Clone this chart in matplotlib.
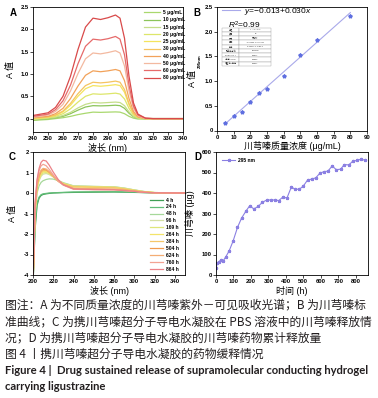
import numpy as np
import matplotlib
matplotlib.use('Agg')
import matplotlib.pyplot as plt

plt.rcParams['font.family'] = ['Liberation Sans', 'Noto Sans CJK SC']
plt.rcParams['axes.unicode_minus'] = False
plt.rcParams['mathtext.fontset'] = 'custom'
plt.rcParams['mathtext.it'] = 'Liberation Sans:italic'
plt.rcParams['mathtext.rm'] = 'Liberation Sans'

# ---------------- Panel A: UV-vis spectra ----------------
wl_a = [240, 250, 255, 260, 265, 270, 275, 280, 285, 290, 295, 298, 301, 304, 307, 310, 315, 320, 340]
conc_labels = ['5 μg/mL', '10 μg/mL', '15 μg/mL', '20 μg/mL', '25 μg/mL',
               '30 μg/mL', '40 μg/mL', '50 μg/mL', '60 μg/mL', '80 μg/mL']
conc_colors = ['#a9d86e', '#8cc45a', '#c5de8a', '#dde66a', '#f4e45e',
               '#f5c460', '#f2a25a', '#f3b9a0', '#e66a6a', '#d94a4a']
spec_5 = [-0.04, -0.02, 0.0, 0.02, 0.05, 0.09, 0.12, 0.145, 0.14, 0.145, 0.15, 0.145, 0.11, 0.05, 0.01, -0.01, -0.01, 0.0, 0.0]
spec_10 = [-0.03, 0.0, 0.02, 0.05, 0.11, 0.19, 0.26, 0.29, 0.285, 0.29, 0.30, 0.29, 0.23, 0.12, 0.04, 0.01, 0.0, 0.0, 0.0]
spec_15 = [-0.02, 0.01, 0.03, 0.07, 0.14, 0.24, 0.32, 0.36, 0.35, 0.36, 0.37, 0.36, 0.29, 0.15, 0.05, 0.01, 0.0, 0.0, 0.0]
spec_20 = [-0.01, 0.02, 0.05, 0.11, 0.22, 0.37, 0.50, 0.555, 0.545, 0.555, 0.57, 0.55, 0.44, 0.23, 0.08, 0.02, 0.0, 0.0, 0.0]
spec_25 = [0.0, 0.03, 0.07, 0.15, 0.30, 0.50, 0.67, 0.74, 0.725, 0.74, 0.76, 0.74, 0.59, 0.31, 0.11, 0.03, 0.0, 0.0, 0.0]
spec_30 = [0.01, 0.04, 0.08, 0.17, 0.34, 0.56, 0.74, 0.815, 0.80, 0.815, 0.84, 0.815, 0.65, 0.34, 0.12, 0.03, 0.0, 0.0, 0.0]
spec_40 = [0.02, 0.05, 0.11, 0.23, 0.45, 0.73, 0.97, 1.07, 1.05, 1.07, 1.10, 1.07, 0.85, 0.45, 0.16, 0.04, 0.0, 0.0, 0.0]
spec_50 = [0.03, 0.08, 0.16, 0.32, 0.62, 1.01, 1.34, 1.47, 1.45, 1.48, 1.52, 1.47, 1.18, 0.62, 0.23, 0.06, 0.0, 0.0, 0.0]
spec_60 = [0.05, 0.10, 0.20, 0.40, 0.75, 1.23, 1.62, 1.78, 1.76, 1.79, 1.84, 1.78, 1.43, 0.75, 0.28, 0.08, 0.01, 0.0, 0.0]
spec_80 = [0.07, 0.13, 0.25, 0.50, 0.95, 1.55, 2.05, 2.25, 2.22, 2.26, 2.32, 2.25, 1.80, 0.95, 0.35, 0.10, 0.01, 0.0, 0.0]
spectra_a = [spec_5, spec_10, spec_15, spec_20, spec_25, spec_30, spec_40, spec_50, spec_60, spec_80]

# ---------------- Panel B: standard curve ----------------
std_conc = [5, 10, 15, 20, 25, 30, 40, 50, 60, 80]
std_abs = [0.16, 0.30, 0.37, 0.57, 0.76, 0.84, 1.10, 1.52, 1.84, 2.32]
fit_intercept = -0.013
fit_slope = 0.030
table_rows = [['方程', 'y = a + b*x'],
              ['绘图', 'B'],
              ['权重', '不加权'],
              ['截距', '-0.01323 ± 0.02081'],
              ['斜率', '0.03007 ± 4.9E-4'],
              ['残差平方和', '0.01238'],
              ["Pearson's r", '0.9977'],
              ['R平方(COD)', '0.9953'],
              ['调整后R平方', '0.9947']]

# ---------------- Panel C: release spectra in PBS ----------------
wl_c = [200, 202, 204, 206, 208, 210, 213, 216, 220, 225, 230, 240, 260, 280, 290, 300, 310, 320, 350]
time_labels = ['4 h', '24 h', '48 h', '96 h', '169 h', '264 h', '384 h', '504 h', '624 h', '760 h', '864 h']
time_colors = ['#3f9e55', '#63bd78', '#a6d89a', '#d3dfa6', '#dfe67a', '#f3e46a',
               '#f5c769', '#f19a4e', '#f4ad74', '#f3a393', '#ec8288']
rel_4 = [-4.5, -1.8, -0.6, -0.25, -0.12, -0.07, -0.04, -0.02, 0.0, 0.01, 0.02, 0.03, 0.04, 0.05, 0.04, 0.03, 0.02, 0.01, 0.0]
rel_24 = [-4.5, -1.6, -0.5, -0.2, -0.08, -0.04, -0.02, 0.0, 0.01, 0.02, 0.03, 0.05, 0.06, 0.06, 0.05, 0.04, 0.02, 0.01, 0.0]
rel_48 = [-4.5, -1.2, 0.0, 0.35, 0.52, 0.60, 0.66, 0.69, 0.68, 0.60, 0.50, 0.35, 0.32, 0.30, 0.24, 0.15, 0.07, 0.02, 0.0]
rel_96 = [-4.5, -1.0, 0.2, 0.60, 0.82, 0.92, 0.95, 0.90, 0.78, 0.60, 0.47, 0.34, 0.32, 0.30, 0.24, 0.15, 0.07, 0.02, 0.0]
rel_169 = [-4.5, -1.0, 0.25, 0.65, 0.88, 0.98, 1.00, 0.94, 0.80, 0.60, 0.46, 0.33, 0.31, 0.29, 0.22, 0.14, 0.06, 0.02, 0.0]
rel_264 = [-4.5, -0.9, 0.3, 0.72, 0.95, 1.04, 1.05, 0.97, 0.82, 0.60, 0.45, 0.30, 0.28, 0.26, 0.20, 0.12, 0.05, 0.02, 0.0]
rel_384 = [-4.5, -0.9, 0.35, 0.78, 1.00, 1.09, 1.10, 1.00, 0.83, 0.60, 0.44, 0.30, 0.28, 0.26, 0.20, 0.12, 0.05, 0.02, 0.0]
rel_504 = [-4.5, -0.8, 0.4, 0.85, 1.07, 1.15, 1.13, 1.02, 0.82, 0.57, 0.40, 0.22, 0.20, 0.18, 0.14, 0.09, 0.04, 0.01, 0.0]
rel_624 = [-4.5, -0.8, 0.45, 0.90, 1.12, 1.20, 1.17, 1.04, 0.83, 0.57, 0.40, 0.22, 0.20, 0.18, 0.14, 0.09, 0.04, 0.01, 0.0]
rel_760 = [-4.5, -0.6, 0.6, 1.10, 1.33, 1.40, 1.33, 1.15, 0.88, 0.58, 0.38, 0.18, 0.16, 0.15, 0.12, 0.08, 0.03, 0.01, 0.0]
rel_864 = [-4.5, -0.5, 0.65, 1.20, 1.50, 1.60, 1.56, 1.36, 1.02, 0.65, 0.40, 0.20, 0.17, 0.16, 0.12, 0.08, 0.03, 0.01, 0.0]
spectra_c = [rel_4, rel_24, rel_48, rel_96, rel_169, rel_264, rel_384, rel_504, rel_624, rel_760, rel_864]

# ---------------- Panel D: cumulative release ----------------
rel_time = [2, 6, 15, 28, 42, 57, 76, 98, 123, 146, 170, 193, 217, 242, 266, 291, 316, 340, 359, 384,
            406, 431, 452, 476, 499, 524, 548, 571, 595, 618, 641, 665, 688, 713, 735, 760, 783, 807, 830, 853]
rel_amount = [33, 58, 63, 73, 70, 90, 119, 166, 232, 277, 310, 338, 322, 335, 355, 366, 366, 366, 363, 381,
              375, 429, 419, 418, 433, 463, 468, 474, 497, 504, 507, 532, 514, 516, 539, 537, 555, 559, 565, 560]

W, H = 378, 398
fig = plt.figure(figsize=(W / 100, H / 100), dpi=100)


def axes_px(left, top, right, bottom):
    return fig.add_axes([left / W, 1 - bottom / H, (right - left) / W, (bottom - top) / H])


def style(ax):
    for s in ax.spines.values():
        s.set_linewidth(0.6)
    ax.tick_params(direction='out', length=2, width=0.5, pad=1, labelsize=4.2)
    for lab in ax.get_xticklabels() + ax.get_yticklabels():
        lab.set_fontweight('bold')


LAB_FS = 6.5
LEG_PROP = {'size': 3.6, 'weight': 'bold'}

# A
axA = axes_px(33, 7, 183, 132)
for y, c, lab in zip(spectra_a, conc_colors, conc_labels):
    axA.plot(wl_a, y, color=c, lw=0.9, label=lab)
axA.set_xlim(240, 340)
axA.set_ylim(-0.3, 2.5)
axA.set_xticks(np.arange(240, 341, 10))
axA.set_yticks([0, 0.5, 1.0, 1.5, 2.0, 2.5])
axA.set_yticklabels(['0', '0.5', '1.0', '1.5', '2.0', '2.5'])
style(axA)
axA.set_xlabel('波长 (nm)', fontsize=LAB_FS, labelpad=1)
axA.set_ylabel('A 值', fontsize=LAB_FS, labelpad=4)
axA.legend(loc='upper left', bbox_to_anchor=(0.74, 0.975), frameon=False,
           prop=LEG_PROP, handlelength=3.2, handletextpad=0.6, labelspacing=0.45,
           borderaxespad=0, borderpad=0)

# B
axB = axes_px(217, 7, 367, 130.5)
fit_x = np.array([5, 80])
axB.plot(fit_x, np.polyval([fit_slope, fit_intercept], fit_x), color='#a9a9ea', lw=0.8,
         label=r'$y$=−0.013+0.030$x$')
axB.plot(std_conc, std_abs, linestyle='none', marker='*', ms=2.8, color='#5f6fe0')
axB.set_xlim(0, 90)
axB.set_ylim(0, 2.5)
axB.set_xticks(np.arange(0, 91, 10))
axB.set_yticks([0, 0.5, 1.0, 1.5, 2.0, 2.5])
axB.set_yticklabels(['0', '0.5', '1.0', '1.5', '2.0', '2.5'])
style(axB)
axB.set_xlabel('川芎嗪质量浓度 (μg/mL)', fontsize=LAB_FS, labelpad=1)
axB.set_ylabel('A 值', fontsize=LAB_FS)
axB.yaxis.set_label_coords(-0.135, 0.42)
fig.text(200 / W, 1 - 61 / H, '295nm', rotation=90, fontsize=3.2, fontweight='bold',
         ha='center', va='center')
axB.legend(loc='upper left', bbox_to_anchor=(0.03, 1.01), frameon=False, fontsize=6,
           handlelength=2.2, handletextpad=0.5, borderaxespad=0, borderpad=0)
axB.text(0.07, 0.85, r'$R^2$=0.99', transform=axB.transAxes, fontsize=6, va='center')
tbl = axB.table(cellText=table_rows, bbox=[0.035, 0.524, 0.325, 0.31],
                colWidths=[0.35, 0.65], cellLoc='center')
tbl.auto_set_font_size(False)
tbl.set_fontsize(1.5)
for cell in tbl.get_celld().values():
    cell.set_linewidth(0.2)
    cell.set_edgecolor('#777777')
    cell.get_text().set_color('#333333')

# C
axC = axes_px(33, 152, 185, 275)
for y, c, lab in zip(spectra_c, time_colors, time_labels):
    axC.plot(wl_c, y, color=c, lw=0.9, label=lab)
axC.set_xlim(200, 350)
axC.set_ylim(-4, 2)
axC.set_xticks(np.arange(200, 341, 20))
axC.set_yticks(np.arange(-4, 3, 1))
style(axC)
axC.set_xlabel('波长 (nm)', fontsize=LAB_FS, labelpad=1)
axC.set_ylabel('A 值', fontsize=LAB_FS, labelpad=5)
axC.legend(loc='upper left', bbox_to_anchor=(0.77, 0.63), frameon=False,
           prop=LEG_PROP, handlelength=2.6, handletextpad=0.5, labelspacing=0.38,
           borderaxespad=0, borderpad=0)

# D
axD = axes_px(216, 152, 368, 275)
axD.plot(rel_time, rel_amount, color='#8b80e2', lw=0.8, marker='*', ms=2.2, label='295 nm')
axD.set_xlim(0, 870)
axD.set_ylim(0, 600)
axD.set_xticks(np.arange(0, 801, 100))
axD.set_yticks(np.arange(0, 601, 100))
style(axD)
axD.set_xlabel('时间 (h)', fontsize=LAB_FS, labelpad=1)
axD.set_ylabel('川芎嗪 (μg)', fontsize=LAB_FS, labelpad=5)
axD.legend(loc='upper left', bbox_to_anchor=(0.04, 0.95), frameon=False,
           prop=LEG_PROP, handlelength=2.6, handletextpad=0.5,
           borderaxespad=0, borderpad=0)

# panel letters
for x, y, s in [(10, 13, 'A'), (193, 13, 'B'), (9, 157, 'C'), (194, 157, 'D')]:
    fig.text(x / W, 1 - y / H, s, fontsize=7, fontweight='bold', va='center')

# caption
cap_color = '#231f20'
cjk = ['Noto Sans CJK SC', 'Liberation Sans']
cap_lines = ['图注：A 为不同质量浓度的川芎嗪紫外－可见吸收光谱；B 为川芎嗪标',
             '准曲线；C 为携川芎嗪超分子导电水凝胶在 PBS 溶液中的川芎嗪释放情',
             '况；D 为携川芎嗪超分子导电水凝胶的川芎嗪药物累计释放量']
for i, line in enumerate(cap_lines):
    fig.text(5 / W, 1 - (305 + 16.5 * i) / H, line, fontsize=8.5, color=cap_color,
             va='center', family=cjk)
fig.text(5 / W, 1 - 354 / H, '图 4 丨携川芎嗪超分子导电水凝胶的药物缓释情况', fontsize=8.5,
         color=cap_color, va='center', family=cjk)
fig.text(5 / W, 1 - 370.5 / H, 'Figure 4 |  Drug sustained release of supramolecular conducting hydrogel',
         fontsize=8.1, fontweight='bold', color=cap_color, va='center', family=['Lato'])
fig.text(5 / W, 1 - 386.5 / H, 'carrying ligustrazine',
         fontsize=8.1, fontweight='bold', color=cap_color, va='center', family=['Lato'])

fig.savefig('out.png', dpi=100)
